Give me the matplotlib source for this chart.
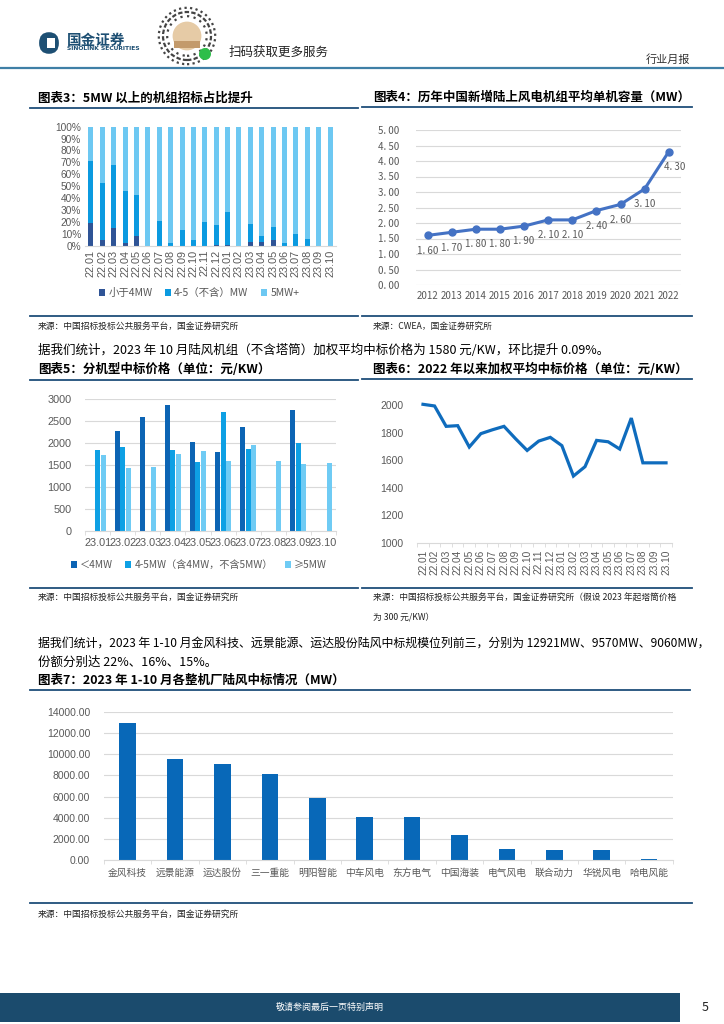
import matplotlib
matplotlib.use('Agg')
import matplotlib.pyplot as plt
import numpy as np
from matplotlib.lines import Line2D
from matplotlib.patches import Rectangle, Circle, FancyBboxPatch
from matplotlib.ticker import FuncFormatter, FixedLocator

plt.rcParams['font.family'] = ['Noto Sans CJK SC', 'DejaVu Sans']

# ---------------- data ----------------
months_22_23 = ['22.01', '22.02', '22.03', '22.04', '22.05', '22.06', '22.07', '22.08',
                '22.09', '22.10', '22.11', '22.12', '23.01', '23.02', '23.03', '23.04',
                '23.05', '23.06', '23.07', '23.08', '23.09', '23.10']
c3_lt4 = [19, 5, 15, 2, 8, 0, 0, 0, 0, 0, 0, 1, 1, 0, 3, 3, 5, 0, 0, 0, 0, 0]
c3_45 = [52, 48, 53, 44, 35, 0, 21, 2, 13, 5, 20, 16, 27, 0, 15, 5, 11, 2, 10, 6, 0, 0]
c3_5p = [29, 47, 32, 54, 57, 100, 79, 98, 87, 95, 80, 83, 72, 100, 82, 92, 84, 98, 90, 94, 100, 100]
c3_legend = ['小于4MW', '4-5（不含）MW', '5MW+']

years = ['2012', '2013', '2014', '2015', '2016', '2017', '2018', '2019', '2020', '2021', '2022']
capacity = [1.60, 1.70, 1.80, 1.80, 1.90, 2.10, 2.10, 2.40, 2.60, 3.10, 4.30]

months_23 = ['23.01', '23.02', '23.03', '23.04', '23.05', '23.06', '23.07', '23.08', '23.09', '23.10']
p_lt4 = [np.nan, 2280, 2590, 2860, 2010, 1800, 2360, np.nan, 2760, np.nan]
p_45 = [1840, 1900, np.nan, 1840, 1570, 2700, 1860, np.nan, 1990, np.nan]
p_ge5 = [1720, 1420, 1440, 1740, 1820, 1580, 1950, 1580, 1510, 1550]
c5_legend = ['＜4MW', '4-5MW（含4MW，不含5MW）', '≥5MW']

avg_price = [2005, 1993, 1845, 1850, 1695, 1792, 1820, 1845, 1755, 1670, 1738,
             1765, 1705, 1484, 1552, 1743, 1733, 1680, 1905, 1580, 1580, 1580]

makers = ['金风科技', '远景能源', '运达股份', '三一重能', '明阳智能', '中车风电',
          '东方电气', '中国海装', '电气风电', '联合动力', '华锐风电', '哈电风能']
maker_mw = [12921, 9570, 9060, 8150, 5850, 4050, 4050, 2350, 1080, 900, 900, 100]

# ---------------- helpers ----------------
W, H = 724, 1024
fig = plt.figure(figsize=(W / 100, H / 100), dpi=100)
fig.patch.set_facecolor('white')

def ax_at(x0, y0, x1, y1):
    return fig.add_axes([x0 / W, 1 - y1 / H, (x1 - x0) / W, (y1 - y0) / H])

def txt(x, y, s, **kw):
    kw.setdefault('va', 'center')
    return fig.text(x / W, 1 - y / H, s, **kw)

def hline(x0, x1, y, color='#1F4E79', lw=1.3):
    fig.add_artist(Line2D([x0 / W, x1 / W], [1 - y / H, 1 - y / H], color=color, lw=lw))

TICK = '#595959'
GRID = '#D9D9D9'
NUMF = ['Liberation Sans', 'Noto Sans CJK SC']
TITLE_KW = dict(fontsize=9, fontweight='bold', color='black')
SRC_KW = dict(fontsize=6.3, color='#222222')
PARA_KW = dict(fontsize=9, color='black')

# ---------------- header ----------------
hline(0, W, 68, color='#3F7FA6', lw=1.6)
logo = fig.add_axes([38 / W, 1 - 55 / H, 22 / W, 24 / H])
logo.set_xlim(0, 1); logo.set_ylim(0, 1); logo.axis('off')
logo.add_patch(FancyBboxPatch((0.05, 0.05), 0.9, 0.9, boxstyle='round,pad=0,rounding_size=0.45',
                              fc='#1D4F73', ec='none'))
logo.add_patch(Rectangle((0.4, 0.3), 0.35, 0.4, fc='white', ec='none'))
txt(67, 40, '国金证券', fontsize=10.5, fontweight='bold', color='#1D4F73')
txt(67, 48.5, 'SINOLINK SECURITIES', fontsize=4.3, fontweight='bold', color='#1D4F73',
    family=['DejaVu Sans'])
qr = fig.add_axes([157 / W, 1 - 66 / H, 60 / W, 60 / H])
qr.set_xlim(0, 1); qr.set_ylim(0, 1); qr.axis('off')
for r, ls in [(0.47, (0, (1, 1.5))), (0.40, (0, (2, 1))), (0.33, (0, (1, 2)))]:
    qr.add_patch(Circle((0.5, 0.5), r, fc='none', ec='#444444', lw=1.6, ls=ls))
qr.add_patch(Circle((0.5, 0.5), 0.24, fc='#E6CBA6', ec='none'))
qr.add_patch(Rectangle((0.28, 0.3), 0.44, 0.12, fc='#C39A6B', ec='none'))
qr.add_patch(Circle((0.8, 0.2), 0.1, fc='#2DBE4A', ec='none'))
txt(229, 52, '扫码获取更多服务', fontsize=9, color='#222222')
txt(690, 60, '行业月报', fontsize=8, color='#333333', ha='right')

# ---------------- chart 3 ----------------
txt(38, 98, '图表3：5MW 以上的机组招标占比提升', **TITLE_KW)
hline(30, 358, 108)
ax3 = ax_at(85.3, 126.7, 335.7, 245.7)
x3 = np.arange(len(months_22_23))
c3_cols = ['#2F5496', '#0B9AE0', '#6DC8F2']
b1 = ax3.bar(x3, c3_lt4, width=0.44, color=c3_cols[0], label=c3_legend[0])
b2 = ax3.bar(x3, c3_45, width=0.44, bottom=c3_lt4, color=c3_cols[1], label=c3_legend[1])
bot = [a + b for a, b in zip(c3_lt4, c3_45)]
b3 = ax3.bar(x3, c3_5p, width=0.44, bottom=bot, color=c3_cols[2], label=c3_legend[2])
ax3.set_xlim(-0.5, len(x3) - 0.5)
ax3.set_ylim(0, 100)
ax3.set_yticks(range(0, 101, 10))
ax3.yaxis.set_major_formatter(FuncFormatter(lambda v, p: f'{int(v)}%'))
ax3.set_xticks(x3)
ax3.set_xticklabels(months_22_23, rotation=90, fontsize=7.8, color=TICK, family=NUMF)
for lab in ax3.get_yticklabels():
    lab.set_family(NUMF)
ax3.tick_params(axis='y', labelsize=7.3, labelcolor=TICK, length=0, pad=3)
ax3.tick_params(axis='x', length=0, pad=3)
for s in ['top', 'right', 'left']:
    ax3.spines[s].set_visible(False)
ax3.spines['bottom'].set_color(GRID)
ax3.legend(handles=[b1, b2, b3], loc='center', bbox_to_anchor=(199 / W, 1 - 293 / H),
           bbox_transform=fig.transFigure, ncol=3, frameon=False, fontsize=7.5,
           handlelength=0.6, handleheight=0.6, handletextpad=0.3, columnspacing=1.2,
           labelcolor=TICK)
hline(30, 358, 316)
txt(38, 326, '来源：中国招标投标公共服务平台，国金证券研究所', **SRC_KW)

# ---------------- chart 4 ----------------
txt(373, 97, '图表4：历年中国新增陆上风电机组平均单机容量（MW）', **TITLE_KW)
hline(362, 692, 107)
ax4 = ax_at(415.6, 130, 680.8, 285)
x4 = np.arange(len(years))
ax4.plot(x4, capacity, color='#4472C4', lw=2.2, marker='o', ms=5, zorder=3)
for i, v in enumerate(capacity):
    dx = 4 if i == len(capacity) - 1 else 0
    ax4.annotate(f'{v:.2f}'.replace('.', '. '), (i, v), xytext=(dx, -11),
                 textcoords='offset points', ha='center', va='center', fontsize=7, color=TICK)
ax4.set_xlim(-0.5, len(years) - 0.5)
ax4.set_ylim(0, 5)
ax4.set_yticks(np.arange(0, 5.01, 0.5))
ax4.yaxis.set_major_formatter(FuncFormatter(lambda v, p: f'{v:.2f}'.replace('.', '. ')))
ax4.set_xticks(x4)
ax4.set_xticklabels(years, fontsize=7, color=TICK)
ax4.tick_params(axis='y', labelsize=7, labelcolor=TICK, length=0, pad=12)
ax4.tick_params(axis='x', length=0, pad=4)
ax4.grid(axis='y', color=GRID, lw=0.8)
ax4.set_axisbelow(True)
for s in ax4.spines.values():
    s.set_visible(False)
hline(362, 692, 316)
txt(373, 326, '来源：CWEA，国金证券研究所', **SRC_KW)

# ---------------- paragraph 1 ----------------
txt(38, 350, '据我们统计，2023 年 10 月陆风机组（不含塔筒）加权平均中标价格为 1580 元/KW，环比提升 0.09%。',
    **PARA_KW)

# ---------------- chart 5 ----------------
txt(38, 369, '图表5：分机型中标价格（单位：元/KW）', **TITLE_KW)
hline(30, 358, 379.5)
ax5 = ax_at(85.2, 399, 335.8, 530.7)
x5 = np.arange(len(months_23))
c5_cols = ['#0C64B4', '#0EA0E4', '#6FCBF4']
bw = 0.2
off = 0.23
h1 = ax5.bar(x5 - off, p_lt4, width=bw, color=c5_cols[0], label=c5_legend[0])
h2 = ax5.bar(x5, p_45, width=bw, color=c5_cols[1], label=c5_legend[1])
h3 = ax5.bar(x5 + off, p_ge5, width=bw, color=c5_cols[2], label=c5_legend[2])
ax5.set_xlim(-0.5, len(x5) - 0.5)
ax5.set_ylim(0, 3000)
ax5.set_yticks(range(0, 3001, 500))
ax5.set_xticks(x5)
ax5.set_xticklabels(months_23, fontsize=7.8, color=TICK, family=NUMF)
ax5.xaxis.set_minor_locator(FixedLocator(np.arange(-0.5, len(x5), 1.0)))
ax5.tick_params(axis='x', which='major', length=0, pad=5)
ax5.tick_params(axis='x', which='minor', length=3, color=GRID)
for lab in ax5.get_yticklabels():
    lab.set_family(NUMF)
ax5.tick_params(axis='y', labelsize=7.8, labelcolor=TICK, length=0, pad=10)
ax5.grid(axis='y', color=GRID, lw=0.8)
ax5.set_axisbelow(True)
for s in ['top', 'right', 'left']:
    ax5.spines[s].set_visible(False)
ax5.spines['bottom'].set_color(GRID)
ax5.legend(handles=[h1, h2, h3], loc='center', bbox_to_anchor=(199 / W, 1 - 565 / H),
           bbox_transform=fig.transFigure, ncol=3, frameon=False, fontsize=7.3,
           handlelength=0.6, handleheight=0.6, handletextpad=0.3, columnspacing=1.2,
           labelcolor=TICK)
hline(30, 358, 588)
txt(38, 597, '来源：中国招标投标公共服务平台，国金证券研究所', **SRC_KW)

# ---------------- chart 6 ----------------
txt(373, 369, '图表6：2022 年以来加权平均中标价格（单位：元/KW）', **TITLE_KW)
hline(362, 692, 379.3)
ax6 = ax_at(417.2, 405, 671.8, 542.7)
x6 = np.arange(len(months_22_23))
ax6.plot(x6, avg_price, color='#0F6CBD', lw=2.3, clip_on=False, solid_joinstyle='miter')
ax6.set_xlim(-0.5, len(x6) - 0.5)
ax6.set_ylim(1000, 2000)
ax6.set_yticks(range(1000, 2001, 200))
ax6.set_xticks(x6)
ax6.set_xticklabels(months_22_23, rotation=90, fontsize=7.3, color=TICK, family=NUMF)
ax6.xaxis.set_minor_locator(FixedLocator(np.arange(-0.5, len(x6), 1.0)))
ax6.tick_params(axis='x', which='major', length=0, pad=5)
ax6.tick_params(axis='x', which='minor', length=3, color=GRID)
for lab in ax6.get_yticklabels():
    lab.set_family(NUMF)
ax6.tick_params(axis='y', labelsize=7.5, labelcolor=TICK, length=0, pad=10)
for s in ['top', 'right', 'left']:
    ax6.spines[s].set_visible(False)
ax6.spines['bottom'].set_color(GRID)
hline(362, 692, 588)
txt(373, 598, '来源：中国招标投标公共服务平台，国金证券研究所（假设 2023 年起塔筒价格', **SRC_KW)
txt(373, 617, '为 300 元/KW）', **SRC_KW)

# ---------------- paragraph 2 ----------------
txt(38, 643, '据我们统计，2023 年 1-10 月金风科技、远景能源、运达股份陆风中标规模位列前三，分别为 12921MW、9570MW、9060MW，',
    fontsize=8.6, color='black')
txt(38, 662, '份额分别达 22%、16%、15%。', **PARA_KW)

# ---------------- chart 7 ----------------
txt(38, 680, '图表7：2023 年 1-10 月各整机厂陆风中标情况（MW）', **TITLE_KW)
hline(30, 690, 690)
ax7 = ax_at(104, 712, 672.8, 860)
x7 = np.arange(len(makers))
ax7.bar(x7, maker_mw, width=0.35, color='#0868B8')
ax7.set_xlim(-0.5, len(x7) - 0.5)
ax7.set_ylim(0, 14000)
ax7.set_yticks(range(0, 14001, 2000))
ax7.yaxis.set_major_formatter(FuncFormatter(lambda v, p: f'{v:.2f}'))
ax7.set_xticks(x7)
ax7.set_xticklabels(makers, fontsize=7, color=TICK)
ax7.xaxis.set_minor_locator(FixedLocator(np.arange(-0.5, len(x7), 1.0)))
ax7.tick_params(axis='x', which='major', length=0, pad=6)
ax7.tick_params(axis='x', which='minor', length=3, color=GRID)
for lab in ax7.get_yticklabels():
    lab.set_family(NUMF)
ax7.tick_params(axis='y', labelsize=7.5, labelcolor=TICK, length=0, pad=10)
ax7.grid(axis='y', color=GRID, lw=0.8)
ax7.set_axisbelow(True)
for s in ['top', 'right', 'left']:
    ax7.spines[s].set_visible(False)
ax7.spines['bottom'].set_color(GRID)
hline(30, 692, 903)
txt(38, 914, '来源：中国招标投标公共服务平台，国金证券研究所', **SRC_KW)

# ---------------- footer ----------------
fig.add_artist(Rectangle((0, 1 - 1022 / H), 680 / W, 29 / H, transform=fig.transFigure,
                         fc='#1B4B6D', ec='none'))
txt(330, 1007.5, '敬请参阅最后一页特别声明', fontsize=6.5, color='white', ha='center')
txt(705, 1007.5, '5', fontsize=9, color='#222222', ha='center')

fig.savefig('out.png', dpi=100, facecolor='white')
